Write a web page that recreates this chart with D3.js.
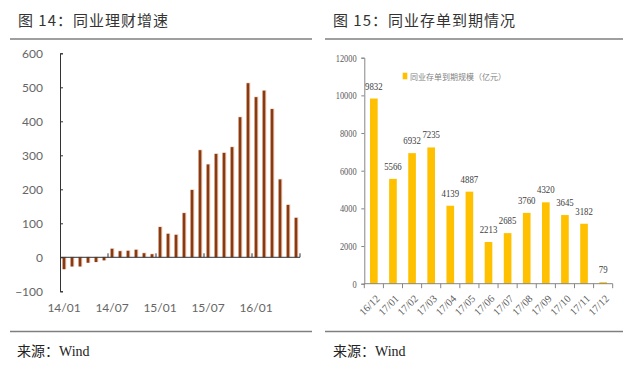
<!DOCTYPE html>
<html><head><meta charset="utf-8">
<script src="https://cdn.jsdelivr.net/npm/d3@7/dist/d3.min.js"></script>
<style>
html,body{margin:0;padding:0;background:#fff;}
svg{display:block;}
.cjk{font-family:"Noto Sans CJK SC",sans-serif;}
.lat{font-family:Lato,"Open Sans",sans-serif;}
.ser{font-family:"Liberation Serif","DejaVu Serif",serif;}
</style></head>
<body>
<svg id="c" width="640" height="367"></svg>
<script>
// ---- Data: left chart (同业理财增速) ----
const leftCats = ["14/01","14/02","14/03","14/04","14/05","14/06","14/07","14/08","14/09","14/10","14/11","14/12",
  "15/01","15/02","15/03","15/04","15/05","15/06","15/07","15/08","15/09","15/10","15/11","15/12",
  "16/01","16/02","16/03","16/04","16/05","16/06"];
const leftVals = [-35,-27,-27,-16,-14,-9,25,18,19,22,12,9,
  89,69,66,130,198,315,273,304,307,324,412,512,
  471,490,436,229,154,116];
const leftYTicks = [-100,0,100,200,300,400,500,600];
const leftXLabels = ["14/01","14/07","15/01","15/07","16/01"];

// ---- Data: right chart (同业存单到期情况) ----
const rightCats = ["16/12","17/01","17/02","17/03","17/04","17/05","17/06","17/07","17/08","17/09","17/10","17/11","17/12"];
const rightVals = [9832,5566,6932,7235,4139,4887,2213,2685,3760,4320,3645,3182,79];
const rightYTicks = [0,2000,4000,6000,8000,10000,12000];
const rightSeriesName = "同业存单到期规模（亿元）";

const titles = ["图 14：同业理财增速","图 15：同业存单到期情况"];
const source = "来源：Wind";

const svg = d3.select("#c");

// Titles & rules
svg.append("text").attr("class","cjk").attr("x",18).attr("y",26).attr("font-size",15)
  .attr("letter-spacing",1).attr("fill","#333").text(titles[0]);
svg.append("text").attr("class","cjk").attr("x",333).attr("y",26).attr("font-size",15)
  .attr("letter-spacing",1).attr("fill","#333").text(titles[1]);
[[10,312],[325,623]].forEach(([a,b])=>{
  svg.append("line").attr("x1",a).attr("x2",b).attr("y1",39).attr("y2",39).attr("stroke","#7f7f7f").attr("stroke-width",1.5);
  svg.append("line").attr("x1",a).attr("x2",b).attr("y1",331.5).attr("y2",331.5).attr("stroke","#7f7f7f").attr("stroke-width",1.5);
});
[17,333].forEach(x=>{
  const t = svg.append("text").attr("x",x).attr("y",356).attr("font-size",14).attr("fill","#222");
  t.append("tspan").attr("class","cjk").text(source.slice(0,3));
  t.append("tspan").attr("font-family","'Liberation Serif',serif").text(source.slice(3));
});

// ---- Left chart ----
const xL = d3.scaleBand().domain(leftCats).range([60,300]).paddingInner(0.66).paddingOuter(0.33);
const yL = d3.scaleLinear().domain([-100,600]).range([291.3,53.3]);
const gL = svg.append("g");
gL.selectAll("rect.sh").data(leftVals).enter().append("rect")
  .attr("x",(d,i)=>xL(leftCats[i])-0.3).attr("width",xL.bandwidth()+1.3)
  .attr("y",d=>Math.min(yL(d),yL(0))-0.6).attr("height",d=>Math.abs(yL(d)-yL(0))+0.6)
  .attr("fill","#ecd2c2");
gL.selectAll("rect.b").data(leftVals).enter().append("rect")
  .attr("x",(d,i)=>xL(leftCats[i])).attr("width",xL.bandwidth())
  .attr("y",d=>Math.min(yL(d),yL(0))).attr("height",d=>Math.abs(yL(d)-yL(0)))
  .attr("fill","#8b3a10");
const ayL = gL.append("g").attr("transform","translate(60,0)")
  .call(d3.axisLeft(yL).tickValues(leftYTicks).tickSize(-3).tickPadding(17).tickFormat(d3.format("d")));
ayL.select(".domain").attr("stroke","#333");
ayL.selectAll(".tick line").attr("stroke","#333");
ayL.selectAll("text").attr("class","lat").attr("font-size",12).attr("fill","#666");
gL.append("line").attr("x1",60).attr("x2",300).attr("y1",yL(0)).attr("y2",yL(0)).attr("stroke","#333");
[6,12,18,24,30].forEach(i=>{
  const bx = xL.range()[0] + i*xL.step();
  gL.append("line").attr("x1",bx).attr("x2",bx).attr("y1",yL(0)).attr("y2",yL(0)-4).attr("stroke","#333");
});
const axL = gL.append("g").attr("transform","translate(0,291.3)")
  .call(d3.axisBottom(xL).tickValues(leftXLabels).tickSize(0).tickPadding(12));
axL.select(".domain").remove();
axL.selectAll("text").attr("class","lat").attr("font-size",12).attr("fill","#666");

// ---- Right chart ----
const xR = d3.scaleBand().domain(rightCats).range([364.3,612.7]).paddingInner(0.6).paddingOuter(0.3);
const yR = d3.scaleLinear().domain([0,12000]).range([283.7,57.7]);
const gR = svg.append("g");
gR.selectAll("rect").data(rightVals).enter().append("rect")
  .attr("x",(d,i)=>xR(rightCats[i])).attr("width",xR.bandwidth())
  .attr("y",d=>yR(d)).attr("height",d=>yR(0)-yR(d)).attr("fill","#ffc000");
gR.selectAll("text.v").data(rightVals).enter().append("text").attr("class","ser")
  .attr("transform",(d,i)=>`translate(${xR(rightCats[i])+xR.bandwidth()/2},${yR(d)-9}) scale(0.8,1)`)
  .attr("text-anchor","middle").attr("font-size",11).attr("fill","#404040").text(d=>d);
const ayR = gR.append("g").attr("transform","translate(364.3,0)")
  .call(d3.axisLeft(yR).tickValues(rightYTicks).tickSize(3).tickPadding(5).tickFormat(d3.format("d")));
ayR.select(".domain").attr("stroke","#868686");
ayR.selectAll(".tick line").attr("stroke","#868686");
ayR.selectAll(".tick text").attr("class","ser").attr("font-size",10.5).attr("fill","#595959")
  .attr("x",null).attr("transform","translate(-7.6,0) scale(0.8,1)");
gR.append("line").attr("x1",364.3).attr("x2",612.7).attr("y1",yR(0)).attr("y2",yR(0)).attr("stroke","#868686");
d3.range(rightCats.length+1).forEach(i=>{
  const bx = xR.range()[0] + i*xR.step();
  gR.append("line").attr("x1",bx).attr("x2",bx).attr("y1",yR(0)).attr("y2",yR(0)+4.5).attr("stroke","#868686");
});
gR.selectAll("text.xl").data(rightCats).enter().append("text").attr("class","ser")
  .attr("transform",d=>`translate(${xR(d)+xR.bandwidth()/2+4},${yR(0)+13}) rotate(-45)`)
  .attr("text-anchor","end").attr("dy","0.35em").attr("font-size",10.5).attr("fill","#595959").text(d=>d);
gR.append("rect").attr("x",402.7).attr("y",72.7).attr("width",4.6).attr("height",6.6).attr("fill","#ffc000");
gR.append("text").attr("class","cjk").attr("x",410).attr("y",79.5).attr("font-size",8).attr("fill","#7f7f7f").text(rightSeriesName);
</script>
</body></html>
